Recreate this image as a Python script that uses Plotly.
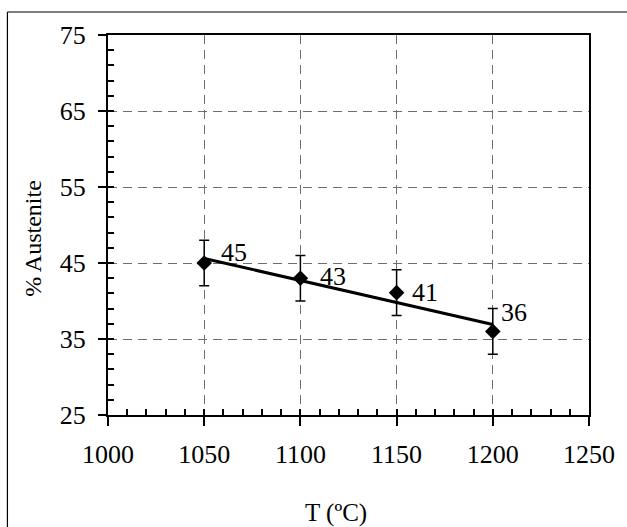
import numpy as np
import plotly.graph_objects as go

# ---- data ----
temps = [1050, 1100, 1150, 1200]
austenite = [45.0, 43.0, 41.1, 36.0]
errors = [3.0, 3.0, 3.0, 3.0]
point_labels = ["45", "43", "41", "36"]
x_ticks = [1000, 1050, 1100, 1150, 1200, 1250]
y_ticks = [25, 35, 45, 55, 65, 75]
x_range = [1000, 1250]
y_range = [25, 75]

# label offsets (pixels) relative to each point
label_dx = [15, 18, 13, 6]
label_dy = [11, 2, 0, 19]

FONT = "Liberation Serif"

# linear trendline through the points
slope, intercept = np.polyfit(temps, [float(l) for l in point_labels], 1)
trend_x = [temps[0], temps[-1]]
trend_y = [slope * t + intercept for t in trend_x]

fig = go.Figure()

fig.add_trace(go.Scatter(
    x=trend_x, y=trend_y, mode="lines",
    line=dict(color="black", width=3), showlegend=False, hoverinfo="skip"))

fig.add_trace(go.Scatter(
    x=temps, y=austenite, mode="markers",
    marker=dict(symbol="diamond", size=12, color="black"),
    error_y=dict(type="data", array=errors, visible=True,
                 color="black", thickness=1.5, width=5),
    showlegend=False))

# invisible trace for the overlay axes carrying the inside (minor) ticks
fig.add_trace(go.Scatter(
    x=x_range, y=y_range, xaxis="x2", yaxis="y2", mode="markers",
    marker=dict(opacity=0), showlegend=False, hoverinfo="skip"))

annotations = []
for t, v, lab, dx, dy in zip(temps, austenite, point_labels, label_dx, label_dy):
    annotations.append(dict(
        x=t, y=v, xref="x", yref="y", text=lab, showarrow=False,
        xanchor="left", yanchor="middle", xshift=dx, yshift=dy,
        font=dict(family=FONT, size=26, color="black")))

annotations.append(dict(
    x=0.473, y=-0.258, xref="paper", yref="paper", text="T (ºC)",
    showarrow=False, xanchor="center", yanchor="middle",
    font=dict(family=FONT, size=25, color="black")))
annotations.append(dict(
    x=-0.1563, y=0.4658, xref="paper", yref="paper", text="% Austenite",
    showarrow=False, xanchor="center", yanchor="middle", textangle=-90,
    font=dict(family=FONT, size=24, color="black")))

grid_dash = "9px,6px"

fig.update_layout(
    width=627, height=527,
    margin=dict(l=108, r=36, t=35, b=112),
    paper_bgcolor="white", plot_bgcolor="white",
    font=dict(family=FONT, color="black"),
    xaxis=dict(
        range=x_range, tickvals=x_ticks, ticks="outside", ticklen=9,
        tickcolor="black", tickwidth=1.5,
        showline=True, linecolor="black", linewidth=2, mirror=True,
        showgrid=True, gridcolor="#6e6e6e", gridwidth=1, griddash=grid_dash,
        zeroline=False, ticklabelstandoff=6,
        tickfont=dict(family=FONT, size=26, color="black")),
    yaxis=dict(
        range=y_range, tickvals=y_ticks, ticks="outside", ticklen=8,
        tickcolor="black", tickwidth=1.5,
        showline=True, linecolor="black", linewidth=2, mirror=True,
        showgrid=True, gridcolor="#6e6e6e", gridwidth=1, griddash=grid_dash,
        zeroline=False, ticklabelstandoff=7,
        tickfont=dict(family=FONT, size=26, color="black")),
    xaxis2=dict(
        range=x_range, overlaying="x", anchor="y", side="bottom",
        tick0=1000, dtick=10, ticks="inside", ticklen=6, tickcolor="black",
        tickwidth=1.5, showticklabels=False, showgrid=False, zeroline=False,
        showline=False),
    yaxis2=dict(
        range=y_range, overlaying="y", anchor="x", side="left",
        tick0=25, dtick=2, ticks="inside", ticklen=6, tickcolor="black",
        tickwidth=1.5, showticklabels=False, showgrid=False, zeroline=False,
        showline=False),
    annotations=annotations,
    shapes=[
        dict(type="line", xref="paper", yref="paper",
             x0=-0.2091, x1=-0.2091, y0=-0.5, y1=1.0605,
             line=dict(color="black", width=1.2)),
        dict(type="line", xref="paper", yref="paper",
             x0=-0.2091, x1=1.5, y0=1.0605, y1=1.0605,
             line=dict(color="black", width=1.2)),
    ],
)

fig.write_html("out.html")
